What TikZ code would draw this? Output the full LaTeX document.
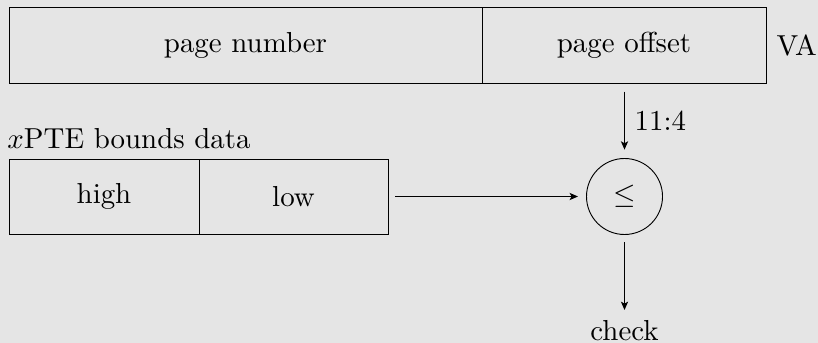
\documentclass[tikz,border=0pt]{standalone}
\usetikzlibrary{arrows.meta}
\definecolor{bg}{RGB}{229,229,229}
\begin{document}
\begin{tikzpicture}[x=0.346pt,y=-0.346pt, line width=0.32pt,
  field/.style={draw, inner sep=0pt},
  conn/.style={-{Stealth[length=2.9pt,width=2.5pt,inset=0.7pt]}},
  op/.style={draw, circle, minimum size=26.3pt, inner sep=0pt}]
\fill[bg] (0,0) rectangle (818,343);
\useasboundingbox (0,0) rectangle (818,343);
% virtual address
\node[field, minimum width=163.66pt, minimum height=26.3pt] (pn) at (245.5,45) {page number};
\node[field, minimum width=98.26pt, minimum height=26.3pt] (po) at (624,45) {page offset};
\node[right] (va) at (po.east) {VA};
% bounds data
\node[field, minimum width=65.74pt, minimum height=25.95pt] (hi) at (104,196.5) {high};
\node[field, minimum width=65.4pt, minimum height=25.95pt] (lo) at (293.5,196.5) {low};
\node[anchor=base west, inner sep=0pt] (xl) at (7,149) {$x$PTE bounds data};
% comparator
\node[op] (cmp) at (624.5,196.5) {$\leq$};
\node[anchor=north] (chk) at (624.5,310) {check};
% connectors
\draw[conn, shorten <=2.8pt, shorten >=2.9pt] (po.south -| cmp.north) -- node[right] (bits) {11:4} (cmp.north);
\draw[conn, shorten <=2.4pt, shorten >=2.8pt] (lo.east) -- (cmp.west);
\draw[conn, shorten <=2.6pt] (cmp.south) -- (chk.north);
\end{tikzpicture}
\end{document}
